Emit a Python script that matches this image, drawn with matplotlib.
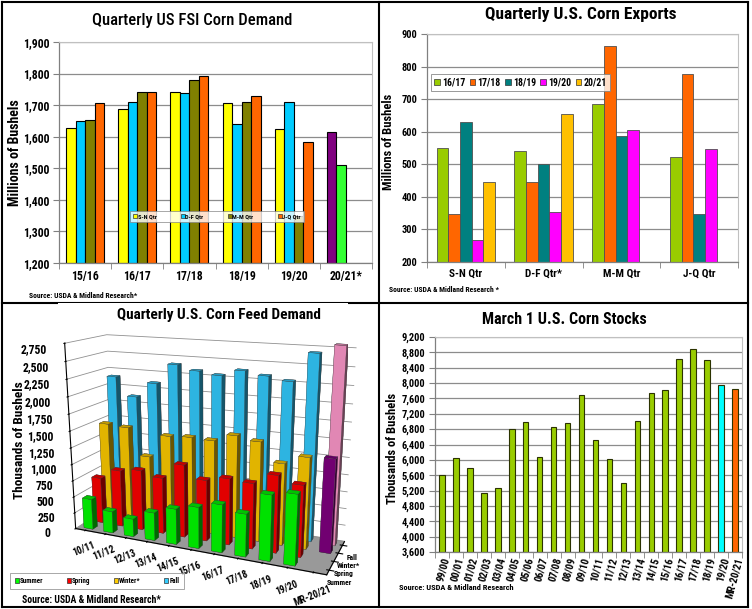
import numpy as np
import matplotlib
matplotlib.use("Agg")
import matplotlib.pyplot as plt
from matplotlib.patches import Patch
from matplotlib.ticker import FuncFormatter, FixedLocator

plt.rcParams['font.family'] = ['Roboto Condensed', 'Archivo Narrow', 'Liberation Sans',
                               'DejaVu Sans']
plt.rcParams['font.weight'] = 'bold'

nan = np.nan
# ---------------- data ----------------
fsi_years = ['15/16', '16/17', '17/18', '18/19', '19/20', '20/21*']
fsi_sn = [1629, 1688, 1743, 1708, 1626, 1614]
fsi_df = [1650, 1710, 1739, 1641, 1710, 1510]
fsi_mm = [1653, 1741, 1780, 1711, 1350, nan]
fsi_jq = [1708, 1743, 1792, 1728, 1584, nan]
fsi_labels = ['S-N Qtr', 'D-F Qtr', 'M-M Qtr', 'J-Q Qtr']

exp_quarters = ['S-N Qtr', 'D-F Qtr*', 'M-M Qtr', 'J-Q Qtr']
exp_1617 = [549, 540, 685, 521]
exp_1718 = [346, 447, 862, 778]
exp_1819 = [631, 500, 587, 346]
exp_1920 = [267, 353, 605, 547]
exp_2021 = [447, 653, nan, nan]
exp_labels = ['16/17', '17/18', '18/19', '19/20', '20/21']

feed_years = ['10/11', '11/12', '12/13', '13/14', '14/15', '15/16', '16/17',
              '17/18', '18/19', '19/20', 'MR-20/21']
feed_summer = [470, 330, 270, 420, 530, 610, 700, 620, 940, 1000, nan]
feed_spring = [710, 870, 920, 850, 1090, 910, 980, 960, 1120, 1030, nan]
feed_winter = [1480, 1460, 1050, 1400, 1420, 1410, 1520, 1470, 1200, 1330, 1350]
feed_fall = [2150, 1870, 2100, 2400, 2330, 2290, 2380, 2330, 2280, 2680, 2800]
feed_rows = ['Summer', 'Spring', 'Winter*', 'Fall']

stk_years = ['99/00', '00/01', '01/02', '02/03', '03/04', '04/05', '05/06', '06/07',
             '07/08', '08/09', '09/10', '10/11', '11/12', '12/13', '13/14', '14/15',
             '15/16', '16/17', '17/18', '18/19', '19/20', 'MR-20/21']
stk_vals = [5600, 6050, 5800, 5140, 5270, 6800, 6990, 6070, 6860, 6960, 7690, 6520,
            6020, 5400, 7010, 7750, 7810, 8620, 8890, 8605, 7950, 7850]

W, H = 752, 609
fig = plt.figure(figsize=(W / 100, H / 100), dpi=100)
fig.patch.set_facecolor('white')


def rect(l, t, r, b):
    return [l / W, 1 - b / H, (r - l) / W, (b - t) / H]


def fx(x):
    return x / W


def fy(y):
    return 1 - y / H


comma = FuncFormatter(lambda v, p: f"{int(round(v)):,}")
GRID = '#8c8c8c'


def style_2d(ax, n):
    ax.set_facecolor('white')
    ax.grid(axis='y', color=GRID, lw=0.9)
    ax.set_axisbelow(True)
    for s in ['top', 'right']:
        ax.spines[s].set_color('#c0c0c0')
        ax.spines[s].set_linewidth(0.8)
    for s in ['left', 'bottom']:
        ax.spines[s].set_color('#808080')
        ax.spines[s].set_linewidth(0.9)
    ax.set_xlim(-0.5, n - 0.5)
    ax.xaxis.set_minor_locator(FixedLocator(np.arange(-0.5, n, 1.0)))
    ax.tick_params(axis='x', which='major', length=0, pad=5)
    ax.tick_params(axis='x', which='minor', length=4, color='#808080')
    ax.tick_params(axis='y', length=4, color='#808080', pad=3)


# ---------------- Panel 1: FSI ----------------
ax1 = fig.add_axes(rect(59, 42, 372, 263))
fsi_series = [fsi_sn, fsi_df, fsi_mm, fsi_jq]
fsi_colors = ['#ffff00', '#00ccff', '#808000', '#ff6600']
x = np.arange(len(fsi_years))
bw = 0.182
for k, (vals, col) in enumerate(zip(fsi_series, fsi_colors)):
    cols = [col] * len(fsi_years)
    if k == 0:
        cols[-1] = '#800080'
    if k == 1:
        cols[-1] = '#33ff33'
    ax1.bar(x + (k - 1.5) * bw, np.array(vals) - 1200, bottom=1200, width=bw,
            color=cols, edgecolor='black', linewidth=0.8, zorder=2)
ax1.set_ylim(1200, 1900)
ax1.set_yticks(np.arange(1200, 1901, 100))
ax1.yaxis.set_major_formatter(comma)
ax1.set_xticks(x)
ax1.set_xticklabels(fsi_years)
style_2d(ax1, len(fsi_years))
for t in ax1.get_yticklabels():
    t.set_fontsize(8.5)
for t in ax1.get_xticklabels():
    t.set_fontsize(8.5)
h1 = [Patch(facecolor=c, edgecolor='#333333', linewidth=0.5) for c in fsi_colors]
leg1 = ax1.legend(h1, fsi_labels, ncol=4, mode='expand', loc='center',
                  bbox_to_anchor=(fx(127), fy(224), fx(180), 15 / H),
                  bbox_transform=fig.transFigure, fontsize=4.5, frameon=True,
                  fancybox=False, edgecolor='#808080', handlelength=0.6,
                  handleheight=0.6, handletextpad=0.1, borderpad=0.5)
leg1.get_frame().set_linewidth(0.6)
leg1.set_zorder(5)
fig.text(fx(192), fy(20), 'Quarterly US FSI Corn Demand', ha='center', va='center',
         fontsize=12, fontweight='medium')
fig.text(fx(15), fy(153), 'Millions of Bushels', rotation=90, ha='center',
         va='center', fontsize=10)
fig.text(fx(29), fy(295), 'Source: USDA & Midland Research*', ha='left',
         va='center', fontsize=5.5)

# ---------------- Panel 2: Exports ----------------
ax2 = fig.add_axes(rect(427, 34, 738, 262))
exp_series = [exp_1617, exp_1718, exp_1819, exp_1920, exp_2021]
exp_colors = ['#99cc00', '#ff6600', '#008080', '#ff00ff', '#ffc000']
x2 = np.arange(len(exp_quarters))
bw2 = 0.15
for k, (vals, col) in enumerate(zip(exp_series, exp_colors)):
    ax2.bar(x2 + (k - 2) * bw2, np.array(vals, float) - 200, bottom=200, width=bw2,
            color=col, edgecolor='#505050', linewidth=0.6, zorder=2)
ax2.set_ylim(200, 900)
ax2.set_yticks(np.arange(200, 901, 100))
ax2.set_xticks(x2)
ax2.set_xticklabels(exp_quarters)
style_2d(ax2, len(exp_quarters))
for t in ax2.get_yticklabels():
    t.set_fontsize(7.5)
for t in ax2.get_xticklabels():
    t.set_fontsize(8)
h2 = [Patch(facecolor=c, edgecolor='#333333', linewidth=0.5) for c in exp_colors]
leg2 = ax2.legend(h2, exp_labels, ncol=5, loc='upper left',
                  bbox_to_anchor=(fx(431), fy(74)),
                  bbox_transform=fig.transFigure, fontsize=7, frameon=True,
                  fancybox=False, edgecolor='#808080', handlelength=0.55,
                  handleheight=0.7, handletextpad=0.25, borderpad=0.35,
                  columnspacing=0.45, borderaxespad=0)
leg2.get_frame().set_linewidth(0.7)
fig.text(fx(581), fy(15), 'Quarterly U.S. Corn Exports', ha='center', va='center',
         fontsize=12.5)
fig.text(fx(389), fy(142), 'Millions of Bushels', rotation=90, ha='center',
         va='center', fontsize=9)
fig.text(fx(389), fy(290), 'Source: USDA & Midland Research *', ha='left',
         va='center', fontsize=5.5)

# ---------------- Panel 3: Feed 3D ----------------
ax3 = fig.add_axes(rect(-22, 303, 428, 593), projection='3d')
ax3.view_init(elev=16, azim=-67)
ax3.set_proj_type('persp', focal_length=0.42)
feed_series = [feed_summer, feed_spring, feed_winter, feed_fall]
feed_colors = ['#00ff00', '#ff0000', '#ffcc00', '#33ccff']
bx3, by3, bz3, bcol = [], [], [], []
for j, (vals, col) in enumerate(zip(feed_series, feed_colors)):
    for i, v in enumerate(vals):
        if np.isnan(v):
            continue
        c = col
        if i == len(feed_years) - 1 and j == 3:
            c = '#ff99cc'
        if i == len(feed_years) - 1 and j == 2:
            c = '#800080'
        bx3.append(i + 0.28)
        by3.append(j + 0.28)
        bz3.append(v)
        bcol.append(c)
ax3.bar3d(bx3, by3, np.zeros(len(bz3)), 0.45, 0.45, bz3, color=bcol, shade=True,
          edgecolor='#404040', linewidth=0.2)
ax3.set_xlim(0, len(feed_years))
ax3.set_ylim(0, 4)
ax3.set_zlim(0, 2750)
ax3.set_box_aspect((11, 3.2, 8), zoom=1.15)
ax3.set_zticks(np.arange(0, 2751, 250))
ax3.zaxis.set_major_formatter(comma)
ax3.zaxis.set_ticks_position('lower')
ax3.set_xticks(np.arange(len(feed_years)) + 0.5)
ax3.set_xticklabels(feed_years, rotation=22, fontsize=7, ha='center')
ax3.set_yticks(np.arange(4) + 0.5)
ax3.set_yticklabels(feed_rows, fontsize=5.5)
ax3.tick_params(axis='x', pad=-3)
ax3.tick_params(axis='y', pad=-4)
ax3.tick_params(axis='z', pad=4)
for t in ax3.get_zticklabels():
    t.set_fontsize(8.5)
ax3.xaxis.set_pane_color((1, 1, 1, 1))
ax3.yaxis.set_pane_color((1, 1, 1, 1))
ax3.zaxis.set_pane_color((0.6, 0.6, 0.6, 1))
ax3.xaxis._axinfo['grid'].update(color=(1, 1, 1, 0))
ax3.yaxis._axinfo['grid'].update(color=(1, 1, 1, 0))
ax3.zaxis._axinfo['grid'].update(color='#909090', linewidth=0.6)
h3 = [Patch(facecolor=c, edgecolor='#333333', linewidth=0.5) for c in feed_colors]
leg3 = ax3.legend(h3, feed_rows, ncol=4, mode='expand', loc='center',
                  bbox_to_anchor=(fx(7), fy(590), fx(180), 18 / H),
                  bbox_transform=fig.transFigure, fontsize=5, frameon=True,
                  fancybox=False, edgecolor='#808080', handlelength=0.6,
                  handleheight=0.6, handletextpad=0.2, borderpad=0.6)
leg3.get_frame().set_linewidth(0.6)
fig.text(fx(219), fy(315), 'Quarterly U.S. Corn Feed Demand', ha='center',
         va='center', fontsize=11)
fig.text(fx(20), fy(440), 'Thousands of Bushels', rotation=90, ha='center',
         va='center', fontsize=9.5)
fig.text(fx(22), fy(600), 'Source: USDA & Midland Research*', ha='left',
         va='center', fontsize=7)

# ---------------- Panel 4: Stocks ----------------
ax4 = fig.add_axes(rect(435, 337, 742, 552))
x4 = np.arange(len(stk_years))
stk_colors = ['#99cc00'] * (len(stk_years) - 2) + ['#00ffff', '#ff6600']
ax4.bar(x4, np.array(stk_vals) - 3600, bottom=3600, width=0.4, color=stk_colors,
        edgecolor='#2b3300', linewidth=0.8, zorder=2)
ax4.set_ylim(3600, 9200)
ax4.set_yticks(np.arange(3600, 9201, 400))
ax4.yaxis.set_major_formatter(comma)
ax4.set_xticks(x4)
ax4.set_xticklabels(stk_years, rotation=75, ha='right', va='top',
                    rotation_mode='anchor')
style_2d(ax4, len(stk_years))
ax4.tick_params(axis='x', which='major', pad=3)
for t in ax4.get_yticklabels():
    t.set_fontsize(7.5)
for t in ax4.get_xticklabels():
    t.set_fontsize(7.5)
fig.text(fx(564), fy(320), 'March 1 U.S. Corn Stocks', ha='center', va='center',
         fontsize=11.5)
fig.text(fx(393), fy(448), 'Thousands of Bushels', rotation=90, ha='center',
         va='center', fontsize=9)
fig.text(fx(399), fy(587), 'Source: USDA & Midland Research', ha='left',
         va='center', fontsize=6)

# ---------------- panel borders ----------------
bx = fig.add_axes([0, 0, 1, 1], zorder=-1)
bx.set_xlim(0, W)
bx.set_ylim(H, 0)
bx.axis('off')
for seg in [((2, 2), (2, 607)), ((748, 748), (2, 607)), ((2, 748), (2, 2)),
            ((2, 748), (607, 607)), ((379, 379), (2, 607)), ((2, 748), (303, 303))]:
    bx.plot(seg[0], seg[1], color='black', lw=1.5)

fig.savefig('out.png', dpi=100)
